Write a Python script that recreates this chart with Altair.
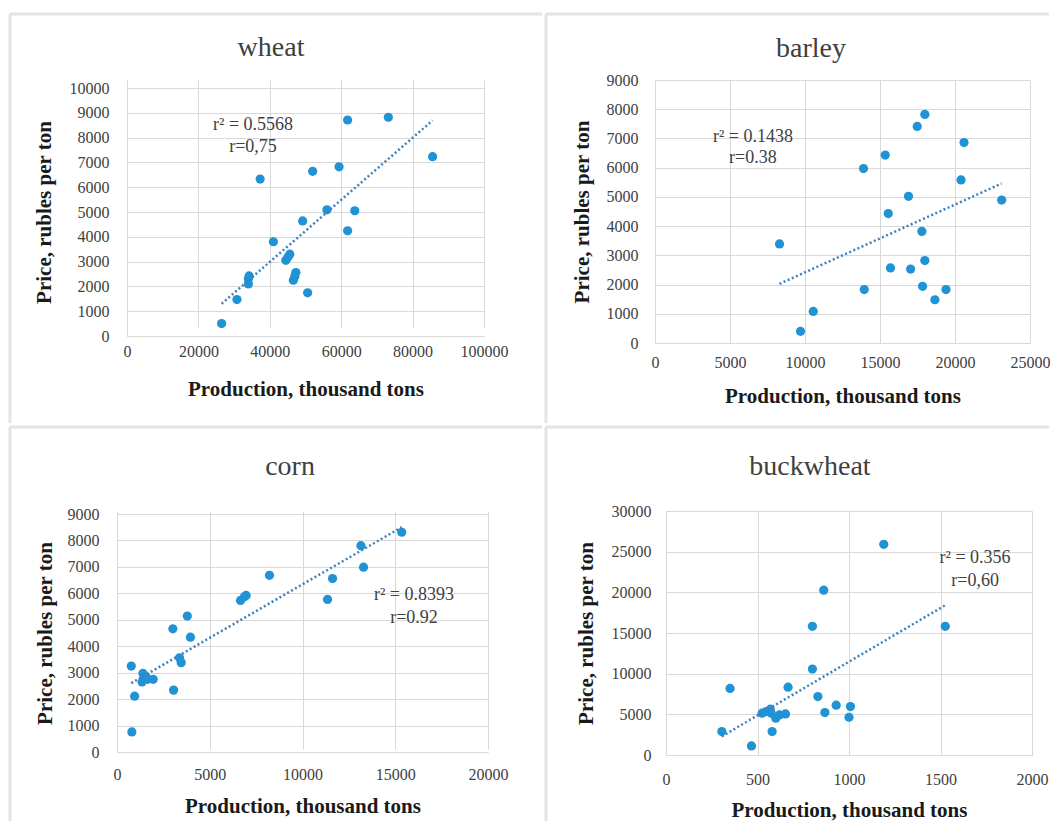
import altair as alt
import pandas as pd

# ---------------- data ----------------
wheat_x = [26500, 30800, 34000, 34000, 34200, 37300, 41000, 44500, 45100, 45600,
           47000, 47300, 46600, 49200, 50600, 52000, 56000, 59400, 61800, 61800,
           63800, 73200, 85600]
wheat_y = [500, 1470, 2100, 2300, 2420, 6330, 3800, 3050, 3190, 3300,
           2400, 2560, 2250, 4640, 1740, 6640, 5090, 6820, 8710, 4240,
           5050, 8820, 7230]

barley_x = [8300, 9700, 10550, 13900, 13950, 15350, 15550, 15700, 16900, 17040,
            17480, 17990, 17790, 17990, 17840, 18660, 19400, 20400, 20600, 23110]
barley_y = [3390, 400, 1080, 5970, 1830, 6430, 4430, 2570, 5020, 2530,
            7410, 7820, 3820, 2820, 1940, 1480, 1830, 5580, 6860, 4890]

corn_x = [770, 800, 950, 1400, 1350, 1550, 1650, 1950, 3010, 3050,
          3370, 3460, 3790, 3960, 6660, 6870, 6960, 8220, 11350, 11620,
          13150, 13290, 15350]
corn_y = [3250, 760, 2110, 2970, 2650, 2850, 2750, 2750, 4660, 2340,
          3560, 3380, 5140, 4340, 5730, 5870, 5920, 6680, 5770, 6560,
          7800, 6990, 8310]

buck_x = [305, 350, 467, 525, 547, 570, 575, 580, 600, 620,
          653, 667, 800, 800, 830, 862, 868, 930, 1000, 1008,
          1190, 1526]
buck_y = [2880, 8180, 1110, 5140, 5340, 5630, 5140, 2880, 4520, 4930,
          5050, 8340, 15820, 10560, 7190, 20260, 5220, 6120, 4640, 5960,
          25900, 15820]

titles = ["wheat", "barley", "corn", "buckwheat"]
notes = [["r\u00b2 = 0.5568", "r=0,75"],
         ["r\u00b2 = 0.1438", "r=0.38"],
         ["r\u00b2 = 0.8393", "r=0.92"],
         ["r\u00b2 = 0.356", "r=0,60"]]
note_x = [35300, 6530, 16010, 1689]
note_y = [[8500, 7620], [7050, 6330], [5937, 5067], [24220, 21390]]

x_domains = [[0, 100000], [0, 25000], [0, 20000], [0, 2000]]
x_ticks = [[0, 20000, 40000, 60000, 80000, 100000],
           [0, 5000, 10000, 15000, 20000, 25000],
           [0, 5000, 10000, 15000, 20000],
           [0, 500, 1000, 1500, 2000]]
y_domains = [[0, 10000], [0, 9000], [0, 9000], [0, 30000]]
y_ticks = [list(range(0, 10001, 1000)), list(range(0, 9001, 1000)),
           list(range(0, 9001, 1000)), list(range(0, 30001, 5000))]

# ---------------- style / layout ----------------
FONT = "Liberation Serif"
PT = "#1f93d3"
TREND = "#3d80bb"
GRID = "#d9d9d9"
DIV = "#e4e4e4"

# per panel (pixel layout relative to each panel's group origin):
#  gw/gh: group size, xr/yr: scale ranges, yoff: y-axis offset,
#  fx/fy: frame edges, tx/ty: title centre, paddings for axis labels/titles
layout = [
    dict(gw=367, gh=256, xr=[10, 367], yr=[256, 8], yoff=-10,
         fx=(-107, 425), fy=(-66, 343), tx=154, ty=-32,
         xlp=7, xtp=19, ylp=18, ytp=15),
    dict(gw=375, gh=263, xr=[0, 375], yr=[263, 0], yoff=0,
         fx=(-109, 394), fy=(-66, 343), tx=156, ty=-31,
         xlp=11, xtp=15, ylp=17, ytp=14),
    dict(gw=371, gh=241, xr=[0, 371], yr=[241, 3], yoff=0,
         fx=(-107, 425), fy=(-84, 310), tx=173, ty=-44,
         xlp=14, xtp=13, ylp=18, ytp=12),
    dict(gw=366, gh=244, xr=[0, 366], yr=[244, 0], yoff=0,
         fx=(-120, 383), fy=(-84, 310), tx=144, ty=-44,
         xlp=16, xtp=12, ylp=15, ytp=15),
]

datasets = [(wheat_x, wheat_y), (barley_x, barley_y), (corn_x, corn_y), (buck_x, buck_y)]


def panel(i):
    xs, ys = datasets[i]
    L = layout[i]
    df = pd.DataFrame({"x": xs, "y": ys})
    xsc = alt.Scale(domain=x_domains[i], range=L["xr"], nice=False, zero=True)
    ysc = alt.Scale(domain=y_domains[i], range=L["yr"], nice=False, zero=True)
    xax = alt.Axis(values=x_ticks[i], format="d", title="Production, thousand tons",
                   labelPadding=L["xlp"], titlePadding=L["xtp"])
    yax = alt.Axis(values=y_ticks[i], format="d", title="Price, rubles per ton",
                   labelPadding=L["ylp"], titlePadding=L["ytp"], offset=L["yoff"])
    X = alt.X("x:Q", scale=xsc, axis=xax)
    Y = alt.Y("y:Q", scale=ysc, axis=yax)

    pts = alt.Chart(df).mark_circle(size=85, color=PT, opacity=1).encode(x=X, y=Y)
    trend = alt.Chart(df).transform_regression("x", "y").mark_line(
        color=TREND, strokeWidth=2.5, strokeDash=[2, 2.5]
    ).encode(x=X, y=Y)

    ndf = pd.DataFrame({"x": [note_x[i]] * 2, "y": note_y[i], "t": notes[i]})
    txt = alt.Chart(ndf).mark_text(font=FONT, fontSize=18, color="#404040").encode(
        x=X, y=Y, text="t:N"
    )

    one = alt.Data(values=[{"a": 1}])
    fx0, fx1 = L["fx"]
    fy0, fy1 = L["fy"]
    top = alt.Chart(one).mark_rule(color=DIV, strokeWidth=3).encode(
        x=alt.value(fx0), x2=alt.value(fx1), y=alt.value(fy0))
    left = alt.Chart(one).mark_rule(color=DIV, strokeWidth=3).encode(
        x=alt.value(fx0), y=alt.value(fy0), y2=alt.value(fy1))
    right = alt.Chart(one).mark_rule(color=DIV, strokeWidth=1, strokeOpacity=0).encode(
        x=alt.value(fx1), y=alt.value(fy0), y2=alt.value(fy1))
    bottom = alt.Chart(one).mark_rule(color=DIV, strokeWidth=1, strokeOpacity=0).encode(
        x=alt.value(fx0), x2=alt.value(fx1), y=alt.value(fy1))

    tdf = alt.Data(values=[{"t": titles[i]}])
    ttl = alt.Chart(tdf).mark_text(font=FONT, fontSize=28, color="#404040",
                                   align="center", baseline="middle").encode(
        x=alt.value(L["tx"]), y=alt.value(L["ty"]), text="t:N")

    return alt.layer(top, left, right, bottom, pts, trend, txt, ttl).properties(
        width=L["gw"], height=L["gh"])


chart = alt.vconcat(
    alt.hconcat(panel(0), panel(1), spacing=0),
    alt.hconcat(panel(2), panel(3), spacing=0),
    spacing=0,
).properties(
    padding={"left": 0, "top": 4, "right": 0, "bottom": 0},
    background="white",
).configure_view(stroke=None).configure_axis(
    labelFont=FONT, labelFontSize=16, labelColor="#404040",
    labelOverlap=False, labelFlush=False,
    titleFont=FONT, titleFontSize=21, titleFontWeight="bold", titleColor="#1a1a1a",
    gridColor=GRID, gridWidth=1, domainColor=GRID, ticks=False,
)

chart.save("out.html", embed_options={"renderer": "svg", "actions": False})
